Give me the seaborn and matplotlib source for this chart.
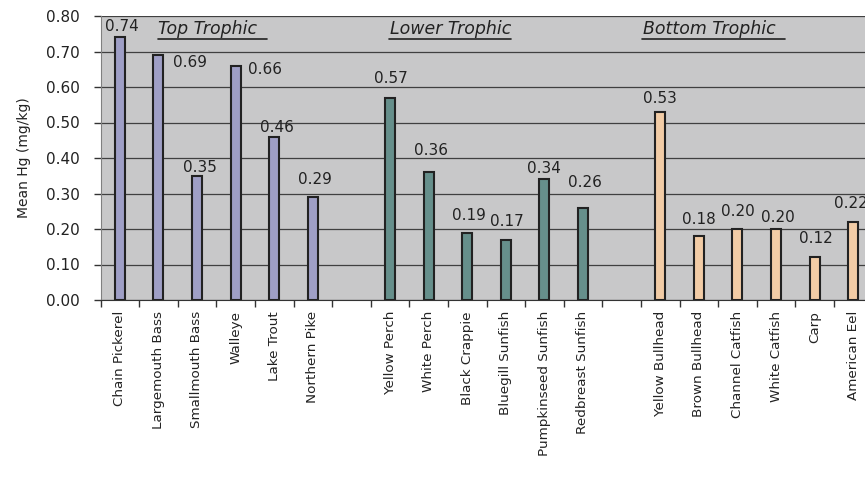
import numpy as np
import pandas as pd
import seaborn as sns
import matplotlib.pyplot as plt
from matplotlib.lines import Line2D

# --- Data ---
top_fish = ["Chain Pickerel", "Largemouth Bass", "Smallmouth Bass", "Walleye",
            "Lake Trout", "Northern Pike"]
top_hg = [0.74, 0.69, 0.35, 0.66, 0.46, 0.29]

lower_fish = ["Yellow Perch", "White Perch", "Black Crappie", "Bluegill Sunfish",
              "Pumpkinseed Sunfish", "Redbreast Sunfish"]
lower_hg = [0.57, 0.36, 0.19, 0.17, 0.34, 0.26]

bottom_fish = ["Yellow Bullhead", "Brown Bullhead", "Channel Catfish",
               "White Catfish", "Carp", "American Eel"]
bottom_hg = [0.53, 0.18, 0.20, 0.20, 0.12, 0.22]

levels = ["Top Trophic", "Lower Trophic", "Bottom Trophic"]
y_ticks = [0.0, 0.1, 0.2, 0.3, 0.4, 0.5, 0.6, 0.7, 0.8]

# label nudges (pixels) relative to each bar top, as in the original sheet
label_nudge = [(2, 11), (32, -7), (3, 8), (29, -4), (3, 9), (2, 18),
               (1, 19), (2, 22), (2, 17), (1, 18), (0, 11), (2, 25),
               (0, 13), (0, 17), (0, 18), (2, 12), (1, 19), (-2, 18)]

# --- Build table ---
df = pd.DataFrame({
    "fish": top_fish + lower_fish + bottom_fish,
    "hg": top_hg + lower_hg + bottom_hg,
    "level": [levels[0]] * 6 + [levels[1]] * 6 + [levels[2]] * 6,
})
order = top_fish + [" "] + lower_fish + ["  "] + bottom_fish
colors = ["#9999CC", "#5F9690", "#FFCC99"]

# --- Plot ---
sns.set_style("ticks")
plt.rcParams["font.family"] = ["DejaVu Sans"]

fig = plt.figure(figsize=(8.65, 4.91), dpi=100)
ax = fig.add_axes([100.5 / 865, 191 / 491, 772 / 865, 284 / 491])
ax.set_facecolor("#C8C8C9")

sns.barplot(data=df, x="fish", y="hg", hue="level", order=order,
            hue_order=levels, palette=colors, dodge=False, width=0.26,
            edgecolor="#222222", linewidth=1.5, legend=False, ax=ax,
            zorder=3)

ax.set_xlim(-0.5, len(order) - 0.5)
ax.set_ylim(0, 0.8)
ax.set_yticks(y_ticks)
ax.set_yticklabels([f"{t:.2f}" for t in y_ticks], fontsize=11, color="#222222")
ax.yaxis.grid(True, color="#404040", linewidth=0.9, zorder=0)
ax.set_axisbelow(True)

# category labels at centres, tick marks at boundaries
ax.set_xticks(np.arange(len(order)))
ax.set_xticklabels(order, rotation=90, fontsize=9.7, color="#222222")
ax.tick_params(axis="x", which="major", length=0, pad=8)
ax.set_xticks(np.arange(-0.5, len(order), 1), minor=True)
ax.tick_params(axis="x", which="minor", length=5, width=1, color="#333333")
ax.tick_params(axis="y", length=5, width=1, color="#333333", pad=10)

ax.set_xlabel("")
ax.set_ylabel("Mean Hg (mg/kg)", fontsize=10, color="#222222", labelpad=11)

for s in ["top", "right"]:
    ax.spines[s].set_visible(False)
ax.spines["left"].set_color("#808080")
ax.spines["bottom"].set_color("#333333")

# value labels
positions = [order.index(f) for f in df["fish"]]
for pos, val, (dx, dy) in zip(positions, df["hg"], label_nudge):
    ax.annotate(f"{val:.2f}", xy=(pos, val), xytext=(dx, dy),
                textcoords="offset pixels", ha="center", va="center",
                fontsize=11, color="#222222", zorder=5, annotation_clip=False)

# group headings, italic and underlined
headings = [("Top Trophic", 1.0, 10), ("Lower Trophic", 7.0, 0),
            ("Bottom Trophic", 13.55, 10)]
texts = []
for name, xpos, extra in headings:
    t = ax.text(xpos, 0.762, name, ha="left", va="center", fontsize=12.5,
                style="italic", color="#222222", zorder=5)
    texts.append((t, extra))

fig.canvas.draw()
renderer = fig.canvas.get_renderer()
for t, extra in texts:
    bb = t.get_window_extent(renderer)
    y = bb.y0 - 1
    fig.add_artist(Line2D([bb.x0 / 865 - 0.001, (bb.x1 + extra) / 865],
                          [y / 491, y / 491], color="#222222", lw=1.2,
                          transform=fig.transFigure))

fig.savefig("out.png", dpi=100)
